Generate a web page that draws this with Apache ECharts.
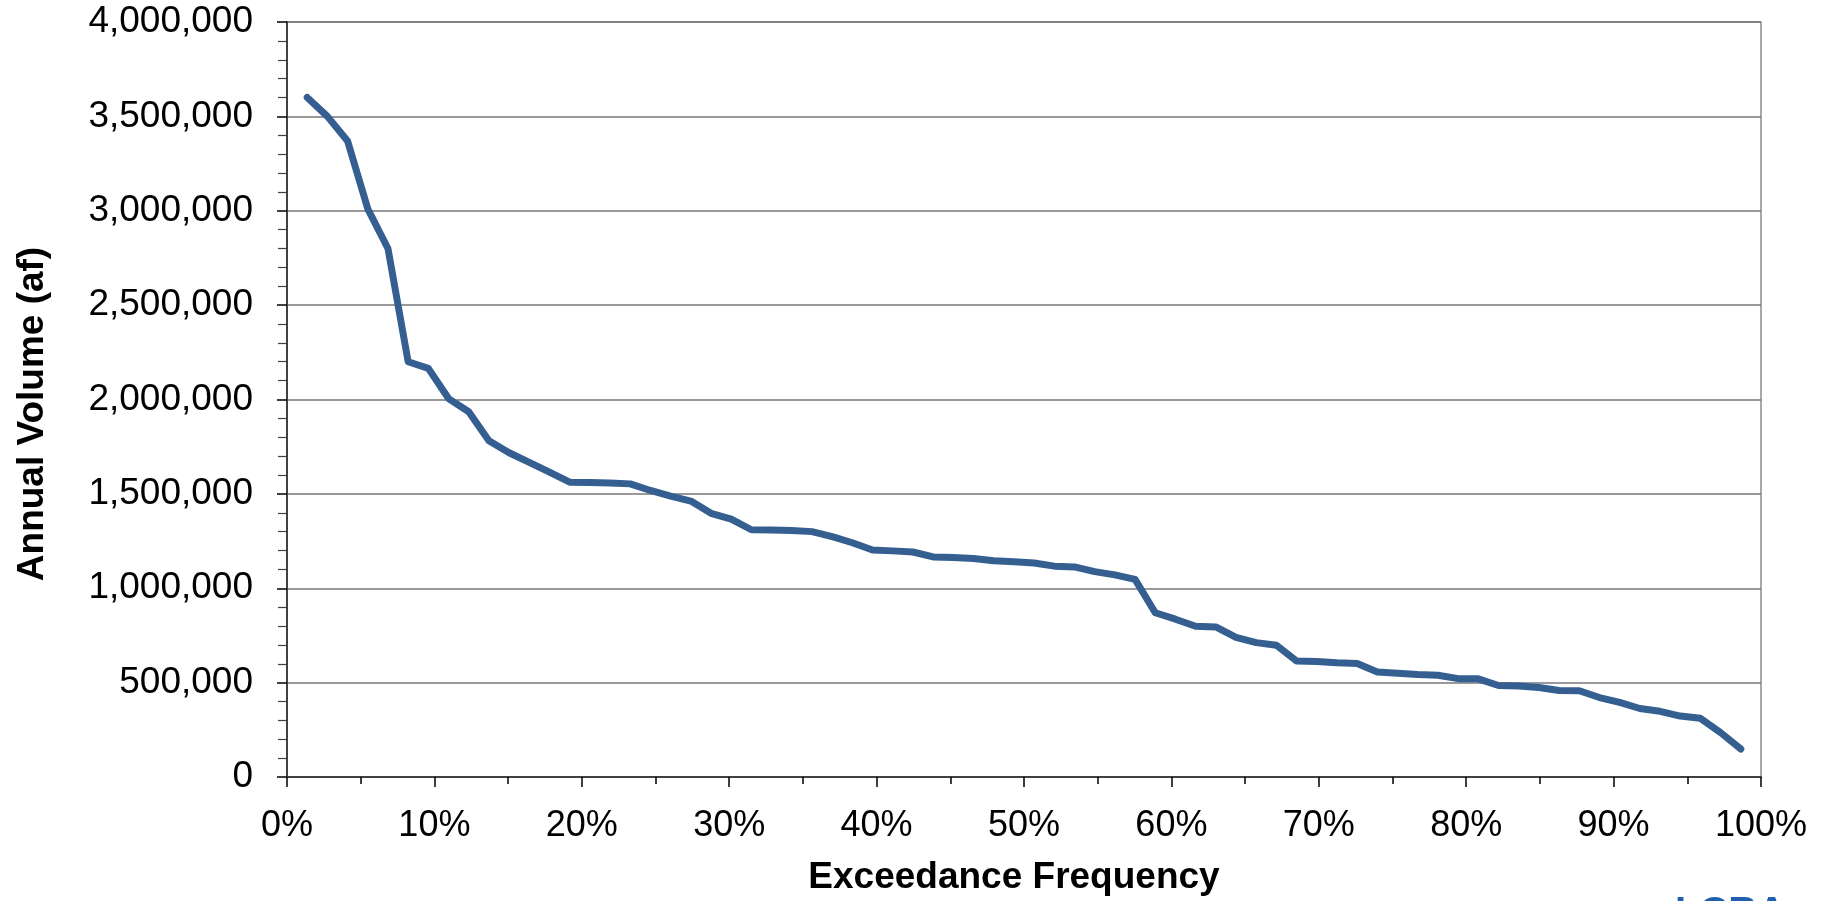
<!DOCTYPE html>
<html>
<head>
<meta charset="utf-8">
<title>Annual Volume Exceedance</title>
<script src="https://cdn.jsdelivr.net/npm/echarts@6/dist/echarts.min.js"></script>
<style>
  html, body { margin: 0; padding: 0; background: #fff; }
  #chart { width: 1830px; height: 901px; }
</style>
</head>
<body>
<div id="chart"></div>
<script>
// annual volumes (af), ranked largest to smallest
const volumes = [
  3600000, 3500000, 3370000, 3010000, 2800000, 2200000, 2165000, 2005000, 1935000, 1782000,
  1718000, 1667000, 1615000, 1562000, 1560000, 1558000, 1553000, 1518000, 1488000, 1462000,
  1397000, 1366000, 1310000, 1308000, 1306000, 1300000, 1273000, 1241000, 1203000, 1198000,
  1192000, 1166000, 1163000, 1158000, 1146000, 1140000, 1134000, 1117000, 1113000, 1088000,
  1071000, 1047000, 870000, 836000, 799000, 795000, 740000, 712000, 698000, 614000,
  612000, 605000, 601000, 556000, 550000, 543000, 539000, 521000, 520000, 485000,
  482000, 474000, 458000, 457000, 421000, 395000, 363000, 348000, 323000, 311000,
  235000, 148000
];

// plotting position rank / (n + 1)
const exceedance = volumes.map((v, i) => (i + 1) / (volumes.length + 1));

const yTicks = { min: 0, max: 4000000, interval: 500000 };
const xTicks = { min: 0, max: 1, interval: 0.1 };

const fontFamily = "'Liberation Sans', Arial, sans-serif";

const myChart = echarts.init(document.getElementById("chart"));

const option = {
  animation: false,
  backgroundColor: "#fff",
  grid: {
    left: 287,
    right: 69,
    top: 22,
    bottom: 119,
    show: true,
    borderColor: "#8c8c8c",
    borderWidth: 1.5,
  },
  xAxis: {
    type: "value",
    min: xTicks.min,
    max: xTicks.max,
    interval: xTicks.interval,
    name: "Exceedance Frequency",
    nameLocation: "middle",
    nameGap: 82,
    nameTextStyle: {
      fontFamily: fontFamily,
      fontSize: 37,
      fontWeight: "bold",
      color: "#000",
      padding: [0, 20, 0, 0],
    },
    axisLine: { show: true, lineStyle: { color: "#404040", width: 2 } },
    axisTick: { show: true, length: 10, lineStyle: { color: "#000", width: 1.5 } },
    minorTick: { show: true, splitNumber: 2, length: 7, lineStyle: { color: "#000", width: 1.5 } },
    splitLine: { show: false },
    axisLabel: {
      margin: 31,
      fontFamily: fontFamily,
      fontSize: 36,
      color: "#000",
      formatter: (v) => Math.round(v * 100) + "%",
    },
  },
  yAxis: {
    type: "value",
    min: yTicks.min,
    max: yTicks.max,
    interval: yTicks.interval,
    name: "Annual Volume (af)",
    nameLocation: "middle",
    nameGap: 236,
    nameTextStyle: {
      fontFamily: fontFamily,
      fontSize: 37,
      fontWeight: "bold",
      color: "#000",
      padding: [0, 29, 0, 0],
    },
    axisLine: { show: true, lineStyle: { color: "#404040", width: 2 } },
    axisTick: { show: true, length: 10, lineStyle: { color: "#000", width: 1.5 } },
    minorTick: { show: true, splitNumber: 5, length: 9, lineStyle: { color: "#404040", width: 1.2 } },
    splitLine: { show: true, lineStyle: { color: "#777", width: 1.5 } },
    axisLabel: {
      margin: 34,
      padding: [11, 0, 0, 0],
      fontFamily: fontFamily,
      fontSize: 37,
      color: "#000",
      formatter: (v) => v.toLocaleString("en-US"),
    },
  },
  graphic: [
    {
      type: "text",
      left: 1675,
      top: 894,
      style: {
        text: "LCRA",
        font: "bold 40px " + fontFamily,
        fill: "#1f5fae",
      },
    },
  ],
  series: [
    {
      type: "line",
      data: volumes.map((v, i) => [exceedance[i], v]),
      symbol: "none",
      lineStyle: { color: "#365f91", width: 7, cap: "round", join: "round" },
    },
  ],
};

myChart.setOption(option);

window.addEventListener("resize", () => {
  myChart.resize();
});
</script>
</body>
</html>
